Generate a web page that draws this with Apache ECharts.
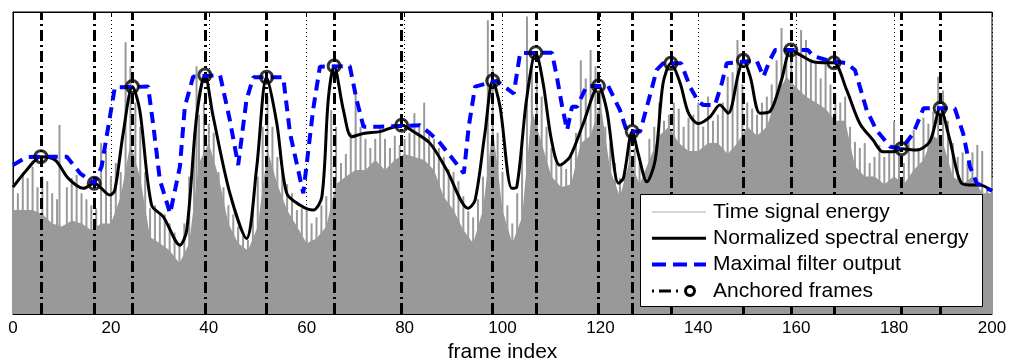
<!DOCTYPE html>
<html>
<head>
<meta charset="utf-8">
<script src="https://cdn.jsdelivr.net/npm/echarts@6/dist/echarts.min.js"></script>
<style>
  html, body { margin: 0; padding: 0; background: #fff; }
  #chart { width: 1009px; height: 363px; }
</style>
</head>
<body>
<div id="chart"></div>
<script>
// x ticks
const xTicks = [0, 20, 40, 60, 80, 100, 120, 140, 160, 180, 200];

// time signal energy: dense body level, sampled every 2 frames
const bodyFrames = [0, 2, 4, 6, 8, 10, 12, 14, 16, 18, 20, 22, 24, 26, 28, 30, 32, 34, 36, 38, 40, 42, 44, 46, 48, 50,
  52, 54, 56, 58, 60, 62, 64, 66, 68, 70, 72, 74, 76, 78, 80, 82, 84, 86, 88, 90, 92, 94, 96, 98, 100,
  102, 104, 106, 108, 110, 112, 114, 116, 118, 120, 122, 124, 126, 128, 130, 132, 134, 136, 138, 140, 142, 144, 146, 148, 150,
  152, 154, 156, 158, 160, 162, 164, 166, 168, 170, 172, 174, 176, 178, 180, 182, 184, 186, 188, 190, 192, 194, 196, 198, 200];
const bodyValues = [0.344, 0.344, 0.344, 0.33, 0.30, 0.29, 0.31, 0.30, 0.278, 0.30, 0.30, 0.388, 0.566, 0.45, 0.255, 0.234, 0.21, 0.168, 0.234, 0.50, 0.566, 0.455, 0.30, 0.234, 0.21, 0.29,
  0.543, 0.43, 0.344, 0.29, 0.234, 0.25, 0.29, 0.43, 0.455, 0.477, 0.477, 0.51, 0.477, 0.51, 0.53, 0.52, 0.51, 0.477, 0.388, 0.344, 0.278, 0.234, 0.344, 0.62, 0.344,
  0.234, 0.32, 0.675, 0.566, 0.455, 0.42, 0.43, 0.566, 0.59, 0.70, 0.477, 0.388, 0.51, 0.43, 0.51, 0.59, 0.62, 0.566, 0.54, 0.54, 0.566, 0.566, 0.53, 0.566, 0.62,
  0.59, 0.62, 0.72, 0.786, 0.75, 0.72, 0.70, 0.68, 0.64, 0.64, 0.49, 0.455, 0.455, 0.43, 0.455, 0.43, 0.477, 0.51, 0.59, 0.566, 0.455, 0.43, 0.455, 0.40, 0.40];

// time signal energy: spike tops, one per frame plus a few tall ones
const spikeFrames = [0, 1, 2, 3, 4, 5, 6, 7, 8, 9, 9.5, 11, 12, 13, 14, 15, 16, 17, 18, 19, 20, 21, 22, 23, 24, 25, 26, 27, 28, 29,
  30, 31, 32, 33, 34, 35, 36, 37, 37.5, 38, 39, 40, 41, 42, 43, 44, 45, 46, 47, 48, 49, 50, 51, 52, 53, 54, 55, 56, 57, 58, 59,
  60, 61, 62, 63, 64, 65, 66, 67, 68, 69, 70, 71, 72, 73, 74, 75, 76, 77, 78, 79, 80, 81, 82, 83, 84, 85, 86, 87, 88, 89,
  90, 91, 92, 93, 94, 95, 96, 97, 98, 99, 100, 101, 102, 103, 104, 105, 106, 107, 108, 109, 110, 111, 112, 113, 114, 115, 116, 117, 118, 119,
  120, 121, 122, 123, 124, 125, 126, 127, 128, 129, 130, 131, 132, 133, 134, 135, 136, 137, 138, 139, 140, 141, 142, 143, 144, 145, 146, 147, 148, 149,
  150, 151, 152, 153, 154, 155, 156, 157, 158, 159, 160, 161, 162, 163, 164, 165, 166, 167, 168, 169, 170, 171, 172, 173, 174, 175, 176, 177, 178, 179,
  180, 181, 182, 183, 184, 185, 186, 187, 188, 189, 190, 191, 192, 193, 194, 195, 196, 197, 198, 199, 200];
const spikeValues = [0.43, 0.40, 0.466, 0.45, 0.488, 0.42, 0.456, 0.44, 0.40, 0.38, 0.626, 0.42, 0.45, 0.46, 0.40, 0.38, 0.36, 0.35, 0.566, 0.54, 0.456, 0.50, 0.47, 0.90, 0.82, 0.70, 0.62, 0.47, 0.35, 0.36,
  0.334, 0.33, 0.30, 0.27, 0.234, 0.30, 0.455, 0.60, 0.82, 0.66, 0.70, 0.63, 0.60, 0.47, 0.42, 0.36, 0.33, 0.29, 0.26, 0.245, 0.36, 0.455, 0.62, 0.72, 0.62, 0.52, 0.47, 0.43, 0.40, 0.344, 0.35,
  0.344, 0.30, 0.32, 0.36, 0.39, 0.675, 0.62, 0.50, 0.53, 0.60, 0.742, 0.62, 0.58, 0.55, 0.58, 0.62, 0.58, 0.55, 0.59, 0.56, 0.58, 0.60, 0.665, 0.63, 0.70, 0.60, 0.58, 0.55, 0.52, 0.48,
  0.47, 0.44, 0.39, 0.34, 0.32, 0.38, 0.455, 0.973, 0.82, 0.60, 0.47, 0.36, 0.30, 0.40, 0.566, 0.985, 0.84, 0.80, 0.72, 0.62, 0.55, 0.50, 0.49, 0.48, 0.53, 0.60, 0.84, 0.78, 0.874, 0.82,
  0.74, 0.62, 0.566, 0.50, 0.45, 0.48, 0.59, 0.55, 0.50, 0.47, 0.58, 0.62, 0.70, 0.64, 0.66, 0.70, 0.68, 0.62, 0.65, 0.66, 0.70, 0.62, 0.72, 0.64, 0.66, 0.70, 0.786, 0.80, 0.907, 0.76,
  0.70, 0.68, 0.66, 0.70, 0.72, 0.76, 0.84, 0.947, 0.85, 0.86, 0.874, 0.94, 0.907, 0.84, 0.83, 0.78, 0.84, 0.76, 0.73, 0.70, 0.72, 0.62, 0.57, 0.55, 0.566, 0.50, 0.52, 0.56, 0.52, 0.54,
  0.64, 0.56, 0.50, 0.58, 0.61, 0.55, 0.65, 0.63, 0.67, 0.786, 0.74, 0.64, 0.566, 0.52, 0.535, 0.50, 0.535, 0.56, 0.54, 0.42, 0.45];

// normalized spectral energy
const spectralFrames = [0, 2.8, 5.7, 8.6, 11.3, 14.4, 16.6, 19.8, 20.8, 22.5, 24.4, 25.9, 28.3, 30.7, 34.1, 35.5, 37.5, 39.2, 40.9, 44.3, 47.7, 49.8,
  51.8, 53.9, 55.9, 58.6, 61.3, 63.1, 64.4, 65.6, 67.5, 69.2, 71.6, 75, 79.4, 81.8, 85.2, 88.6, 93, 94.4, 96.4, 98, 99.5, 101.9, 102.9, 104.9,
  106.8, 108.3, 110, 111.7, 113.8, 116.5, 119.6, 121.3, 123.7, 124.7, 126.5, 127.7, 129.5, 131.2, 132.8, 134.4, 136.3, 138, 140, 142.4, 144.4,
  146.1, 148.2, 149.2, 150.6, 152.6, 154.6, 157, 158.9, 160.8, 163.5, 166.2, 167.7, 170.3, 173, 175.7, 177.7, 179.8, 181.5, 184.6, 187.3,
  189.4, 191.4, 193.8, 196.2, 197.5, 200];
const spectralValues = [0.42, 0.477, 0.521, 0.51, 0.449, 0.416, 0.433, 0.394, 0.41, 0.598, 0.753, 0.675, 0.361, 0.322, 0.228, 0.278, 0.653, 0.791, 0.653, 0.40, 0.25, 0.488,
  0.784, 0.631, 0.40, 0.361, 0.344, 0.388, 0.709, 0.821, 0.675, 0.587, 0.598, 0.604, 0.625, 0.604, 0.565, 0.477, 0.35, 0.377, 0.598, 0.772, 0.686, 0.416, 0.42, 0.709,
  0.865, 0.764, 0.576, 0.493, 0.521, 0.631, 0.755, 0.675, 0.433, 0.45, 0.604, 0.532, 0.438, 0.51, 0.764, 0.83, 0.764, 0.665, 0.631, 0.653, 0.692,
  0.665, 0.797, 0.84, 0.786, 0.665, 0.67, 0.775, 0.874, 0.858, 0.835, 0.832, 0.832, 0.742, 0.631, 0.576, 0.537, 0.537, 0.547, 0.543, 0.571,
  0.681, 0.576, 0.433, 0.427, 0.427, 0.408];

// maximal filter output
const maxFrames = [0, 2.8, 5.7, 11, 13.7, 16.6, 18.1, 19.8, 20.8, 27.6, 28.7, 30, 32.1, 34.1, 35.1, 36.8, 42.3, 44.3, 46, 47.7, 49.1, 55.2,
  56.6, 59.3, 61.3, 62.7, 68.8, 70.2, 71.6, 75, 83.1, 85.2, 87, 90, 92.1, 93.1, 94.4, 98.8, 102.3, 103.6, 110.1, 111.1, 112.2, 113.2, 114.2,
  115.2, 117.2, 121.6, 124, 125.4, 128.1, 129.5, 131.5, 132.8, 136.5, 138.3, 140, 141, 143.4, 144.8, 145.8, 151.9, 153.3, 154.6, 155.7,
  162.4, 163.5, 166.2, 170.3, 172, 173, 174.4, 176.4, 179.2, 181.5, 183.9, 186, 192.4, 194.1, 195.5, 196.9, 200];
const maxValues = [0.493, 0.52, 0.521, 0.521, 0.466, 0.433, 0.488, 0.653, 0.75, 0.753, 0.62, 0.444, 0.333, 0.488, 0.686, 0.786, 0.791, 0.642, 0.493, 0.709, 0.784, 0.784,
  0.598, 0.40, 0.675, 0.819, 0.821, 0.709, 0.62, 0.62, 0.625, 0.598, 0.571, 0.51, 0.466, 0.62, 0.753, 0.772, 0.73, 0.864, 0.865, 0.786, 0.686, 0.609, 0.686,
  0.686, 0.755, 0.755, 0.675, 0.604, 0.604, 0.686, 0.808, 0.83, 0.83, 0.753, 0.703, 0.692, 0.692, 0.764, 0.83, 0.84, 0.786, 0.84, 0.874,
  0.874, 0.854, 0.841, 0.83, 0.808, 0.753, 0.675, 0.609, 0.554, 0.547, 0.598, 0.681, 0.681, 0.598, 0.488, 0.433, 0.408];

// anchored frames
const anchorFrames = [5.7, 16.6, 24.4, 39.2, 51.8, 65.6, 79.4, 98, 106.8, 119.6, 126.5, 134.4, 149.2, 158.9, 167.7, 181.5, 189.4];
const anchorValues = [0.521, 0.433, 0.753, 0.791, 0.784, 0.821, 0.625, 0.772, 0.865, 0.755, 0.604, 0.830, 0.840, 0.874, 0.832, 0.547, 0.681];

const legendLabels = ["Time signal energy", "Normalized spectral energy", "Maximal filter output", "Anchored frames"];

const zip = (xs, ys) => xs.map((x, i) => [x, ys[i]]);
const FONT = "'Liberation Sans', Arial, Helvetica, sans-serif";
const DASHDOT = [11, 4, 2, 4];
const BLUEDASH = [11, 7];

const chart = echarts.init(document.getElementById("chart"), null, {renderer: "canvas"});

// legend drawn by hand (MATLAB style box)
const lx = 640, ly = 194, rowH = 26.3;
const legendGraphics = [
  {type: "rect", shape: {x: lx + 0.5, y: ly + 0.5, width: 342, height: 112}, style: {fill: "#fff", stroke: "#000", lineWidth: 1}, z: 100}
];
legendLabels.forEach((label, i) => {
  const cy = ly + 18 + i * rowH;
  legendGraphics.push({type: "text", x: 713, y: cy, z: 101,
    style: {text: label, font: "21px " + FONT, fill: "#000", textVerticalAlign: "middle", verticalAlign: "middle"}});
});
legendGraphics.push(
  {type: "line", shape: {x1: 652, y1: ly + 18, x2: 706, y2: ly + 18}, style: {stroke: "#aaa", lineWidth: 1}, z: 101},
  {type: "line", shape: {x1: 652, y1: ly + 18 + rowH, x2: 706, y2: ly + 18 + rowH}, style: {stroke: "#000", lineWidth: 3}, z: 101},
  {type: "line", shape: {x1: 652, y1: ly + 18 + 2 * rowH, x2: 706, y2: ly + 18 + 2 * rowH}, style: {stroke: "#00f", lineWidth: 4, lineDash: [14, 7]}, z: 101},
  {type: "line", shape: {x1: 652, y1: ly + 18 + 3 * rowH, x2: 682, y2: ly + 18 + 3 * rowH}, style: {stroke: "#000", lineWidth: 3, lineDash: [2, 5, 12, 5]}, z: 101},
  {type: "circle", shape: {cx: 690, cy: ly + 18 + 3 * rowH, r: 4.5}, style: {fill: "none", stroke: "#000", lineWidth: 3}, z: 102}
);

const option = {
  animation: false,
  backgroundColor: "#fff",
  textStyle: {fontFamily: FONT},
  grid: {
    left: 13, right: 17, top: 12, bottom: 49, outerBoundsMode: "none",
    show: true, borderColor: "#000", borderWidth: 1, backgroundColor: "#fff"
  },
  xAxis: [
    {
      type: "value", min: 0, max: 200, interval: 20, position: "bottom",
      name: "frame index", nameLocation: "middle", nameGap: 27,
      nameTextStyle: {color: "#000", fontSize: 21, fontFamily: FONT},
      axisLine: {show: true, lineStyle: {color: "#000", width: 1}},
      axisTick: {show: true, inside: true, length: 5, lineStyle: {color: "#000"}},
      axisLabel: {color: "#000", fontSize: 17, fontFamily: FONT, margin: 6, showMaxLabel: true, showMinLabel: true},
      splitLine: {show: true, lineStyle: {color: "#000", width: 1, type: [1, 3]}}
    },
    {
      type: "value", min: 0, max: 200, interval: 20, position: "top",
      axisLine: {show: true, lineStyle: {color: "#000", width: 1}},
      axisTick: {show: true, inside: true, length: 5, lineStyle: {color: "#000"}},
      axisLabel: {show: false},
      splitLine: {show: false}
    }
  ],
  yAxis: {
    type: "value", min: 0, max: 1,
    axisLine: {show: true, lineStyle: {color: "#000"}},
    axisTick: {show: false},
    axisLabel: {show: false},
    splitLine: {show: false}
  },
  graphic: legendGraphics,
  series: [
    {
      name: legendLabels[0], type: "line", data: zip(bodyFrames, bodyValues),
      symbol: "none", lineStyle: {width: 0}, areaStyle: {color: "#999", opacity: 1}, z: 1, silent: true
    },
    {
      name: legendLabels[0] + " spikes", type: "bar", data: zip(spikeFrames, spikeValues),
      barWidth: 2, itemStyle: {color: "#999"}, z: 1, silent: true
    },
    {
      name: "anchor lines", type: "line", data: [], z: 3,
      markLine: {
        silent: true, symbol: ["none", "none"], label: {show: false},
        lineStyle: {color: "#000", width: 3, type: DASHDOT},
        data: anchorFrames.map(f => ({xAxis: f}))
      }
    },
    {
      name: legendLabels[1], type: "line", data: zip(spectralFrames, spectralValues),
      symbol: "none", smooth: 0.3, lineStyle: {color: "#000", width: 3}, z: 4
    },
    {
      name: legendLabels[2], type: "line", data: zip(maxFrames, maxValues),
      symbol: "none", lineStyle: {color: "#00f", width: 4, type: BLUEDASH}, z: 5
    },
    {
      name: legendLabels[3], type: "scatter", data: zip(anchorFrames, anchorValues),
      symbol: "circle", symbolSize: 12,
      itemStyle: {color: "rgba(0,0,0,0)", borderColor: "#000", borderWidth: 3}, z: 6
    }
  ]
};

chart.setOption(option);
</script>
</body>
</html>
